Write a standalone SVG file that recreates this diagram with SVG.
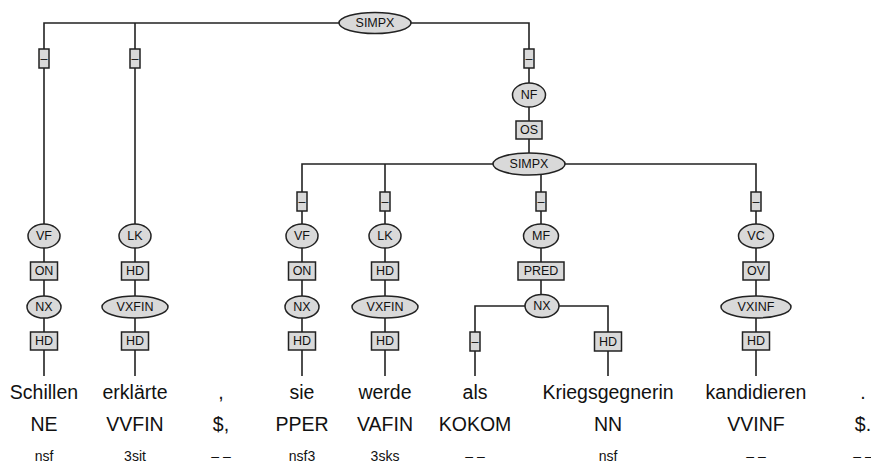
<svg xmlns="http://www.w3.org/2000/svg" width="871" height="463" viewBox="0 0 871 463">
<style>
.ln{fill:none;stroke:#222;stroke-width:1.6}
.nd{fill:#d9d9d9;stroke:#222;stroke-width:1.5}
.lb{font-family:"Liberation Sans",Arial,sans-serif;font-size:12.5px;fill:#111;text-anchor:middle;dominant-baseline:central}
.w{font-family:"Liberation Sans",Arial,sans-serif;font-size:19.5px;fill:#111;text-anchor:middle}
.m{font-family:"Liberation Sans",Arial,sans-serif;font-size:14px;fill:#111;text-anchor:middle}
</style>
<rect width="871" height="463" fill="#fff"/>
<g id="connectors">
<path class="ln" d="M44,376 V23 H529 V164"/>
<path class="ln" d="M135,23 V376"/>
<path class="ln" d="M302,376 V164 H756 V376"/>
<path class="ln" d="M385,164 V376"/>
<path class="ln" d="M541,164 V306"/>
<path class="ln" d="M475,376 V306 H608 V376"/>
</g>
<g id="simpx1"><ellipse class="nd" cx="375" cy="23" rx="36" ry="10.5"/><text class="lb" x="375" y="23">SIMPX</text></g>
<g id="e1"><rect class="nd" x="39" y="49" width="10" height="19"/><text class="lb" x="44" y="58.5">–</text></g>
<g id="e2"><rect class="nd" x="130" y="49" width="10" height="19"/><text class="lb" x="135" y="58.5">–</text></g>
<g id="e3"><rect class="nd" x="524" y="49" width="10" height="19"/><text class="lb" x="529" y="58.5">–</text></g>
<g id="nf"><ellipse class="nd" cx="529" cy="95" rx="16.5" ry="12"/><text class="lb" x="529" y="95">NF</text></g>
<g id="os"><rect class="nd" x="516" y="121" width="26" height="18"/><text class="lb" x="529" y="130">OS</text></g>
<g id="simpx2"><ellipse class="nd" cx="529" cy="164" rx="36" ry="11"/><text class="lb" x="529" y="164">SIMPX</text></g>
<g id="e4"><rect class="nd" x="297" y="192" width="10" height="19"/><text class="lb" x="302" y="201.5">–</text></g>
<g id="e5"><rect class="nd" x="380" y="192" width="10" height="19"/><text class="lb" x="385" y="201.5">–</text></g>
<g id="e6"><rect class="nd" x="536" y="192" width="10" height="19"/><text class="lb" x="541" y="201.5">–</text></g>
<g id="e7"><rect class="nd" x="751" y="192" width="10" height="19"/><text class="lb" x="756" y="201.5">–</text></g>
<g id="vf1"><ellipse class="nd" cx="44" cy="236" rx="16" ry="12"/><text class="lb" x="44" y="236">VF</text></g>
<g id="lk1"><ellipse class="nd" cx="135" cy="236" rx="16" ry="12"/><text class="lb" x="135" y="236">LK</text></g>
<g id="vf2"><ellipse class="nd" cx="302" cy="236" rx="16" ry="12"/><text class="lb" x="302" y="236">VF</text></g>
<g id="lk2"><ellipse class="nd" cx="385" cy="236" rx="16" ry="12"/><text class="lb" x="385" y="236">LK</text></g>
<g id="mf"><ellipse class="nd" cx="541" cy="236" rx="17.5" ry="12"/><text class="lb" x="541" y="236">MF</text></g>
<g id="vc"><ellipse class="nd" cx="756" cy="236" rx="17.5" ry="12"/><text class="lb" x="756" y="236">VC</text></g>
<g id="on1"><rect class="nd" x="30.5" y="262" width="27" height="18"/><text class="lb" x="44" y="271">ON</text></g>
<g id="hd1"><rect class="nd" x="121.5" y="262" width="27" height="18"/><text class="lb" x="135" y="271">HD</text></g>
<g id="on2"><rect class="nd" x="288.5" y="262" width="27" height="18"/><text class="lb" x="302" y="271">ON</text></g>
<g id="hd2"><rect class="nd" x="371.5" y="262" width="27" height="18"/><text class="lb" x="385" y="271">HD</text></g>
<g id="pred"><rect class="nd" x="518" y="262" width="46" height="18"/><text class="lb" x="541" y="271">PRED</text></g>
<g id="ov"><rect class="nd" x="743" y="262" width="26" height="18"/><text class="lb" x="756" y="271">OV</text></g>
<g id="nx1"><ellipse class="nd" cx="44" cy="307" rx="17" ry="11"/><text class="lb" x="44" y="307">NX</text></g>
<g id="vxfin1"><ellipse class="nd" cx="135" cy="307" rx="33" ry="11"/><text class="lb" x="135" y="307">VXFIN</text></g>
<g id="nx2"><ellipse class="nd" cx="302" cy="307" rx="17" ry="11"/><text class="lb" x="302" y="307">NX</text></g>
<g id="vxfin2"><ellipse class="nd" cx="385" cy="307" rx="33" ry="11"/><text class="lb" x="385" y="307">VXFIN</text></g>
<g id="nx3"><ellipse class="nd" cx="542" cy="306" rx="17" ry="11.5"/><text class="lb" x="542" y="306">NX</text></g>
<g id="vxinf"><ellipse class="nd" cx="756" cy="307" rx="35" ry="11"/><text class="lb" x="756" y="307">VXINF</text></g>
<g id="hd3"><rect class="nd" x="30.5" y="332" width="27" height="18"/><text class="lb" x="44" y="341">HD</text></g>
<g id="hd4"><rect class="nd" x="121.5" y="332" width="27" height="18"/><text class="lb" x="135" y="341">HD</text></g>
<g id="hd5"><rect class="nd" x="288.5" y="332" width="27" height="18"/><text class="lb" x="302" y="341">HD</text></g>
<g id="hd6"><rect class="nd" x="371.5" y="332" width="27" height="18"/><text class="lb" x="385" y="341">HD</text></g>
<g id="e8"><rect class="nd" x="470" y="332" width="10" height="19"/><text class="lb" x="475" y="341.5">–</text></g>
<g id="hd7"><rect class="nd" x="594.5" y="332" width="27" height="19"/><text class="lb" x="608" y="341.5">HD</text></g>
<g id="hd8"><rect class="nd" x="742.5" y="332" width="27" height="18"/><text class="lb" x="756" y="341">HD</text></g>
<g id="tokens">
<text class="w" x="44" y="399">Schillen</text><text class="w" x="44" y="431">NE</text><text class="m" x="44" y="461">nsf</text>
<text class="w" x="135" y="399">erklärte</text><text class="w" x="135" y="431">VVFIN</text><text class="m" x="135" y="461">3sit</text>
<text class="w" x="221" y="399">,</text><text class="w" x="221" y="431">$,</text><text class="m" x="221" y="461">– –</text>
<text class="w" x="302" y="399">sie</text><text class="w" x="302" y="431">PPER</text><text class="m" x="302" y="461">nsf3</text>
<text class="w" x="385" y="399">werde</text><text class="w" x="385" y="431">VAFIN</text><text class="m" x="385" y="461">3sks</text>
<text class="w" x="475" y="399">als</text><text class="w" x="475" y="431">KOKOM</text><text class="m" x="475" y="461">– –</text>
<text class="w" x="608" y="399">Kriegsgegnerin</text><text class="w" x="608" y="431">NN</text><text class="m" x="608" y="461">nsf</text>
<text class="w" x="756" y="399">kandidieren</text><text class="w" x="756" y="431">VVINF</text><text class="m" x="756" y="461">– –</text>
<text class="w" x="863" y="399">.</text><text class="w" x="863" y="431">$.</text><text class="m" x="863" y="461">– –</text>
</g>
</svg>
